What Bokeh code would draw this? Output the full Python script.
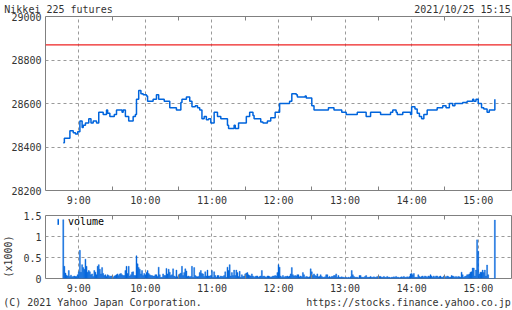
from math import pi
from bokeh.plotting import figure
from bokeh.layouts import column
from bokeh.models import (FixedTicker, LinearAxis, Range1d, Label, Span,
                          CustomJSTickFormatter, NumeralTickFormatter)
from bokeh.embed import file_html
from bokeh.resources import INLINE

# ---------------- data ----------------
title_text = "Nikkei 225 futures"
stamp_text = "2021/10/25 15:15"
copyright_text = "(C) 2021 Yahoo Japan Corporation."
url_text = "https://stocks.finance.yahoo.co.jp"
volume_unit_text = "(x1000)"
volume_legend = "volume"

hour_ticks = ["9:00", "10:00", "11:00", "12:00", "13:00", "14:00", "15:00"]
half_hour_ticks = ["9:30", "10:30", "11:30", "12:30", "13:30", "14:30"]
x_window = ["8:30", "15:30"]
price_ticks = [28200, 28400, 28600, 28800, 29000]
volume_ticks = [0, 0.5, 1, 1.5]
prev_close = 28870

price_times = [
    "8:46", "8:47", "8:52", "8:55", "8:57", "8:59", "9:01", "9:03", "9:04", "9:06",
    "9:09", "9:11", "9:13", "9:16", "9:18", "9:22", "9:25", "9:26", "9:28", "9:32",
    "9:34", "9:39", "9:40", "9:42", "9:45", "9:49", "9:51", "9:52", "9:54", "9:56",
    "9:58", "10:01", "10:02", "10:07", "10:10", "10:12", "10:17", "10:22", "10:28", "10:32",
    "10:33", "10:37", "10:40", "10:42", "10:45", "10:47", "10:49", "10:51", "10:53", "10:55",
    "10:57", "10:59", "11:02", "11:05", "11:08", "11:14", "11:15", "11:20", "11:21", "11:24",
    "11:31", "11:34", "11:37", "11:38", "11:44", "11:46", "11:50", "11:53", "11:57", "12:01",
    "12:10", "12:12", "12:16", "12:17", "12:24", "12:25", "12:30", "12:32", "12:45", "12:50",
    "12:57", "13:01", "13:11", "13:19", "13:23", "13:32", "13:41", "13:43", "13:46", "13:47",
    "13:52", "13:59", "14:00", "14:03", "14:05", "14:07", "14:09", "14:11", "14:14", "14:23",
    "14:28", "14:31", "14:34", "14:37", "14:39", "14:46", "14:50", "14:55", "14:56", "14:58",
    "15:00", "15:03", "15:05", "15:08", "15:10", "15:15",
]
price_values = [
    28420, 28440, 28475, 28465, 28460, 28470, 28520, 28490, 28500, 28510,
    28530, 28510, 28520, 28510, 28560, 28550, 28570, 28555, 28540, 28550,
    28570, 28560, 28570, 28540, 28520, 28540, 28550, 28620, 28660, 28645,
    28640, 28635, 28610, 28620, 28640, 28620, 28610, 28580, 28570, 28605,
    28620, 28630, 28610, 28585, 28590, 28580, 28570, 28530, 28540, 28525,
    28530, 28510, 28560, 28540, 28530, 28500, 28485, 28500, 28485, 28510,
    28540, 28560, 28545, 28530, 28515, 28510, 28520, 28535, 28560, 28600,
    28610, 28645, 28640, 28630, 28635, 28625, 28590, 28570, 28580, 28570,
    28560, 28550, 28560, 28540, 28560, 28550, 28560, 28570, 28560, 28550,
    28560, 28550, 28585, 28575, 28555, 28540, 28530, 28550, 28570, 28580,
    28590, 28580, 28600, 28590, 28600, 28605, 28610, 28620, 28610, 28620,
    28600, 28580, 28575, 28560, 28570, 28620,
]

# one bar per minute, first bar at 8:46 (contracts)
volume_start = "8:46"
volumes = [
    1400, 290, 130, 80, 60, 190, 50, 80, 40, 50, 60, 50, 50, 90,
    160, 670, 150, 330, 260, 220, 460, 290, 150, 190,
    160, 90, 110, 50, 190, 150, 90, 290, 330, 220,
    110, 260, 120, 70, 90, 50, 90, 70, 50, 60,
    60, 30, 60, 70, 90, 110, 70, 110, 120, 90,
    70, 70, 190, 290, 120, 290, 60, 90, 150, 160,
    70, 70, 540, 350, 260, 220, 110, 190, 70, 120,
    90, 140, 190, 120, 90, 70, 70, 60, 60, 90,
    90, 50, 270, 90, 30, 30, 110, 70, 70, 240,
    110, 220, 150, 70, 90, 230, 60, 40, 200, 40,
    80, 110, 130, 290, 70, 140, 230, 180, 50, 60,
    40, 50, 290, 30, 260, 70, 50, 40, 50, 140,
    190, 120, 110, 50, 160, 60, 200, 60, 60, 70,
    190, 30, 160, 70, 30, 70, 70, 30, 60, 50,
    50, 70, 160, 30, 270, 190, 330, 60, 140, 70,
    200, 70, 200, 140, 50, 170, 30, 90, 50, 60,
    110, 130, 140, 90, 70, 60, 110, 60, 30, 50,
    60, 60, 30, 50, 60, 190, 50, 60, 40, 30,
    60, 60, 50, 30, 40, 60, 60, 70, 60, 140,
    330, 270, 60, 30, 70, 30, 50, 50, 60, 40,
    60, 110, 260, 90, 60, 70, 60, 90, 90, 40,
    60, 40, 140, 90, 30, 50, 40, 30, 40, 230,
    160, 70, 110, 70, 60, 110, 40, 50, 90, 50,
    30, 30, 40, 90, 90, 30, 50, 30, 50, 50,
    70, 70, 110, 30, 70, 30, 30, 40, 30, 30,
    20, 30, 20, 30, 20, 40, 190, 90, 50, 30,
    30, 30, 20, 70, 70, 30, 30, 30, 50, 70,
    30, 30, 30, 50, 30, 30, 40, 30, 30, 50,
    30, 50, 50, 30, 30, 50, 30, 30, 50, 30,
    30, 20, 30, 30, 40, 30, 50, 30, 30, 20,
    30, 40, 30, 50, 30, 30, 40, 30, 50, 110,
    120, 90, 120, 30, 30, 30, 90, 50, 30, 50,
    60, 30, 60, 50, 30, 60, 50, 90, 60, 30,
    60, 30, 60, 60, 30, 50, 60, 30, 30, 60,
    50, 30, 60, 50, 30, 30, 70, 60, 50, 30,
    50, 30, 50, 40, 30, 150, 90, 30, 50, 60,
    90, 90, 110, 150, 160, 250, 250, 60, 200, 920,
    650, 110, 150, 150, 200, 140, 200, 60, 320, 90,
    0, 0, 0, 0, 0, 1390,
]

# ---------------- helpers ----------------
def to_min(s):
    h, m = s.split(":")
    return int(h) * 60 + int(m)

FONT = "DejaVu Sans Mono"
TXT = "#333333"
BLUE = "#0064dc"
GRID = "#9a9a9a"
EDGE = "#808080"
W = 512
FRAME = (45, 511)      # frame edges in page pixels
CHAR = 6.02            # advance of a 10px DejaVu Sans Mono glyph

hour_min = [to_min(t) for t in hour_ticks]
half_min = [to_min(t) for t in half_hour_ticks]
x0, x1 = [to_min(t) for t in x_window]
price_x = [to_min(t) for t in price_times]
v0 = to_min(volume_start)
vol_x = [v0 + i for i in range(len(volumes))]
vol_k = [v / 1000 for v in volumes]

fmt = CustomJSTickFormatter(code="""
const h = Math.floor(tick / 60); const m = Math.round(tick % 60);
return h + ":" + (m < 10 ? "0" : "") + m;
""")


def style(p, yticks):
    p.outline_line_color = EDGE
    p.outline_line_width = 1
    p.background_fill_color = "white"
    p.border_fill_color = "white"
    xa = p.xaxis[0]
    xa.ticker = FixedTicker(ticks=hour_min, minor_ticks=half_min)
    xa.formatter = fmt
    ya = p.yaxis[0]
    ya.ticker = FixedTicker(ticks=yticks)
    for a in (xa, ya):
        a.axis_line_color = None
        a.major_tick_in = 0
        a.major_tick_out = 0
        a.major_label_text_font = FONT
        a.major_label_text_font_size = "10px"
        a.major_label_text_color = TXT
    ya.minor_tick_line_color = None
    xa.minor_tick_in = 4
    xa.minor_tick_out = 0
    xa.minor_tick_line_color = EDGE
    ya.major_label_standoff = 4
    xa.major_label_standoff = 4
    top = LinearAxis(ticker=FixedTicker(ticks=[], minor_ticks=half_min),
                     axis_line_color=None, major_tick_in=0, major_tick_out=0,
                     minor_tick_in=4, minor_tick_out=0, minor_tick_line_color=EDGE,
                     major_label_text_font_size="0px", major_label_standoff=0)
    p.add_layout(top, "above")
    p.xgrid.ticker = FixedTicker(ticks=hour_min)
    p.ygrid.ticker = FixedTicker(ticks=yticks)
    for g in (p.xgrid[0], p.ygrid[0]):
        g.grid_line_color = GRID
        g.grid_line_dash = "3 3"
        g.grid_line_width = 1


def text_row(p, side, left_txt, left_start, right_txt, right_end, standoff):
    """A label-only axis on a page-pixel range: one text starting at left_start,
    one text ending at right_end (page pixels)."""
    p.extra_x_ranges = {"page": Range1d(*FRAME)}
    centers = [round(left_start + len(left_txt) * CHAR / 2),
               round(right_end - len(right_txt) * CHAR / 2)]
    ax = LinearAxis(x_range_name="page",
                    ticker=FixedTicker(ticks=centers, minor_ticks=[]),
                    formatter=CustomJSTickFormatter(
                        args=dict(pos=centers, words=[left_txt, right_txt]),
                        code="const i = pos.indexOf(tick); return i < 0 ? '' : words[i];"),
                    axis_line_color=None, major_tick_in=0, major_tick_out=0,
                    minor_tick_line_color=None, major_label_standoff=standoff,
                    major_label_text_font=FONT, major_label_text_font_size="10px",
                    major_label_text_color=TXT)
    p.add_layout(ax, side)


# ---------------- price panel ----------------
p1 = figure(width=W, height=208, x_range=Range1d(x0, x1),
            y_range=Range1d(price_ticks[0], price_ticks[-1]),
            output_backend="svg", toolbar_location=None,
            min_border_left=FRAME[0], min_border_right=W - FRAME[1],
            min_border_top=16, min_border_bottom=17)
style(p1, price_ticks)
text_row(p1, "above", title_text, 4, stamp_text, 510, 2)
p1.add_layout(Span(location=prev_close, dimension="width",
                   line_color="#ee2222", line_width=1.2))
p1.step(x=price_x, y=price_values, mode="after", line_color=BLUE, line_width=1.5)

# ---------------- volume panel ----------------
p2 = figure(width=W, height=102, x_range=Range1d(x0, x1),
            y_range=Range1d(volume_ticks[0], volume_ticks[-1]),
            output_backend="svg", toolbar_location=None,
            min_border_left=FRAME[0], min_border_right=W - FRAME[1],
            min_border_top=7, min_border_bottom=30)
style(p2, volume_ticks)
text_row(p2, "below", copyright_text, 3, url_text, 510, 0)
p2.yaxis[0].formatter = NumeralTickFormatter(format="0.[0]")
p2.vbar(x=vol_x, top=vol_k, width=0.9, fill_color=BLUE, line_color=BLUE,
        line_width=0.4, legend_label=volume_legend)
lg = p2.legend[0]
lg.location = (12, 51)
lg.padding = 0
lg.margin = 0
lg.spacing = 0
lg.glyph_width = 2
lg.glyph_height = 7
lg.label_height = 10
lg.label_standoff = 9
lg.border_line_color = None
lg.background_fill_alpha = 0
lg.label_text_font = FONT
lg.label_text_font_size = "10px"
lg.label_text_color = "#000000"
p2.add_layout(Label(x=-1, y=22, x_units="screen", y_units="screen",
                    text=volume_unit_text, angle=pi / 2, text_font=FONT,
                    text_font_size="10px", text_color=TXT,
                    text_baseline="middle", text_align="center"), "left")

layout = column(p1, p2, spacing=0)
open("out.html", "w").write(file_html(layout, INLINE))
